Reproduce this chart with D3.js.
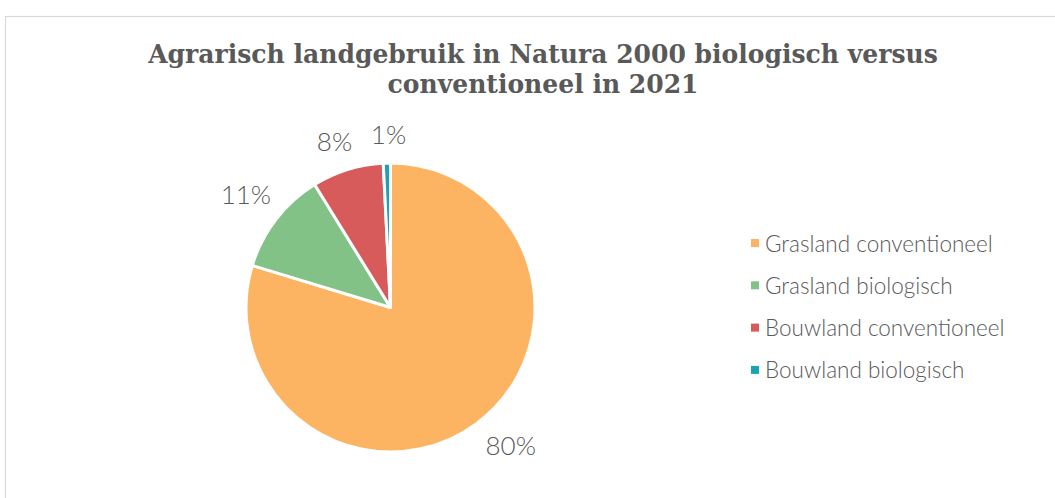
<!DOCTYPE html>
<html>
<head>
<meta charset="utf-8">
<script src="https://cdn.jsdelivr.net/npm/d3@7"></script>
<style>
  body { margin: 0; background: #fff; }
  svg text { fill: #595959; }
  .chartTitle { font-family: 'DejaVu Serif', serif; font-weight: bold; font-size: 26px; }
  .pie-label { font-family: Lato, 'Open Sans', sans-serif; font-weight: 300; font-size: 26px; }
  .legend-label { font-family: Lato, 'Open Sans', sans-serif; font-weight: 300; font-size: 22.5px; }
</style>
</head>
<body>
<svg id="chart"></svg>
<script>
// Data (share of area, %)
const categories = ['Grasland conventioneel', 'Grasland biologisch', 'Bouwland conventioneel', 'Bouwland biologisch'];
const shares = [79.7, 11.5, 8.0, 0.8];
const labels = ['80%', '11%', '8%', '1%'];
const colors = ['#FDB462', '#82C287', '#D85B5B', '#1CA2B5'];
const titleLines = ['Agrarisch landgebruik in Natura 2000 biologisch versus', 'conventioneel in 2021'];

const width = 1055, height = 498;
const cx = 390.5, cy = 307.5, radius = 144.5;

const svg = d3.select('#chart')
    .attr('width', width)
    .attr('height', height);

// chart frame
svg.append('rect')
    .attr('x', 5.5)
    .attr('y', 16.5)
    .attr('width', 1060)
    .attr('height', 500)
    .attr('fill', 'none')
    .attr('stroke', '#d9d9d9')
    .attr('stroke-width', 1.2);

// title (condensed horizontally so the first line spans ~790px like the original)
const titles = svg.selectAll('.chartTitle')
    .data(titleLines)
    .join('text')
      .attr('class', 'chartTitle')
      .attr('text-anchor', 'middle')
      .text(d => d);

const firstW = titles.node().getComputedTextLength();
const sx = Math.min(1, 790 / firstW);
titles.attr('transform', (d, i) => `translate(543,${62.5 + i * 30.5}) scale(${sx},1)`);

const data = categories.map((c, i) => ({ name: c, value: shares[i], label: labels[i], color: colors[i] }));

const pie = d3.pie()
    .value(d => d.value)
    .sort(null);

const arc = d3.arc()
    .innerRadius(0)
    .outerRadius(radius);

const arcs = pie(data);

const chart = svg.append('g')
    .attr('transform', `translate(${cx},${cy})`);

chart.selectAll('.slice')
    .data(arcs)
    .join('path')
      .attr('class', 'slice')
      .attr('d', arc)
      .attr('fill', d => d.data.color)
      .attr('stroke', '#fff')
      .attr('stroke-width', 3)
      .attr('stroke-linejoin', 'round');

// outside-end labels: box corner sits just beyond the arc along the mid angle
const gap = 10;
const clamp = v => Math.max(-1, Math.min(1, v));
chart.selectAll('.pie-label')
    .data(arcs)
    .join('text')
      .attr('class', 'pie-label')
      .attr('text-anchor', 'middle')
      .attr('dominant-baseline', 'central')
      .text(d => d.data.label)
      .each(function(d) {
        const bb = this.getBBox();
        const a = (d.startAngle + d.endAngle) / 2;
        const dx = Math.sin(a), dy = -Math.cos(a);
        const ax = dx * (radius + gap), ay = dy * (radius + gap);
        d3.select(this)
          .attr('x', ax + bb.width / 2 * clamp(dx * 2.5) + 3)
          .attr('y', ay + bb.height / 2 * clamp(dy * 2.5) - 3);
      });

// legend
const legend = svg.append('g')
    .attr('transform', 'translate(751,243)');

const rows = legend.selectAll('.legend-row')
    .data(data)
    .join('g')
      .attr('class', 'legend-row')
      .attr('transform', (d, i) => `translate(0,${i * 42.3})`);

rows.append('rect')
    .attr('x', 0)
    .attr('y', -4)
    .attr('width', 8)
    .attr('height', 8)
    .attr('fill', d => d.color);

rows.append('text')
    .attr('class', 'legend-label')
    .attr('x', 14)
    .attr('y', 0)
    .attr('dominant-baseline', 'central')
    .text(d => d.name);
</script>
</body>
</html>
